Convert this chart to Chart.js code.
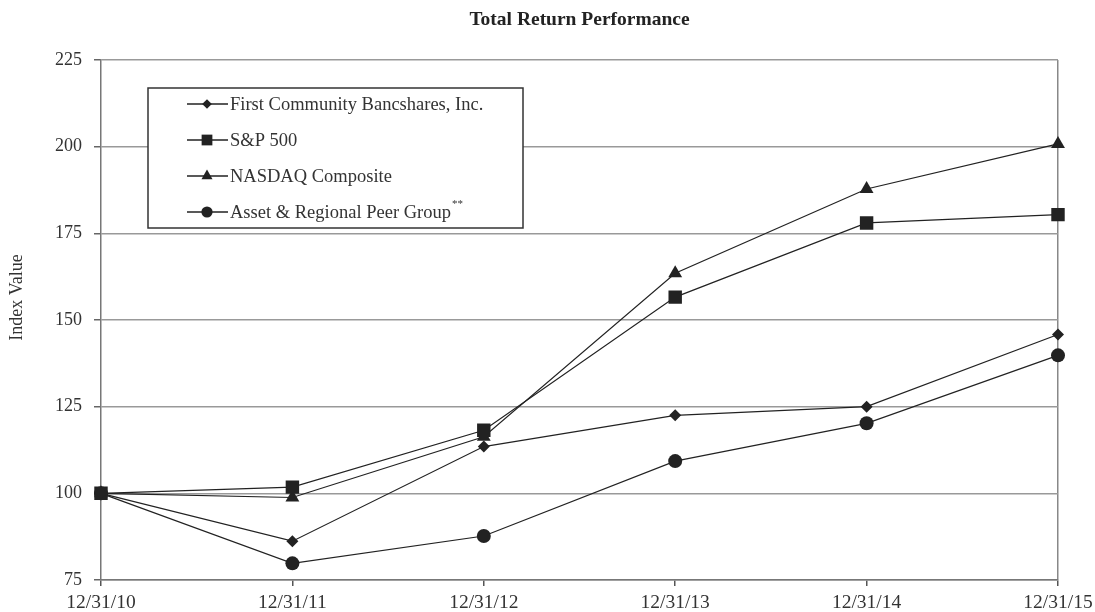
<!DOCTYPE html>
<html>
<head>
<meta charset="utf-8">
<script src="https://cdn.jsdelivr.net/npm/chart.js@4/dist/chart.umd.min.js"></script>
<style>
  html, body { margin: 0; padding: 0; background: #fff; }
  #wrap { width: 1095px; height: 612px; }
</style>
</head>
<body>
<div id="wrap"><canvas id="myChart" width="1095" height="612"></canvas></div>
<script>
// data
const dates = ['12/31/10', '12/31/11', '12/31/12', '12/31/13', '12/31/14', '12/31/15'];
const firstCommunity = [100, 86.2, 113.5, 122.5, 125, 145.8];
const sp500 = [100, 101.8, 118.2, 156.6, 178, 180.4];
const nasdaq = [100, 98.8, 116.3, 163.5, 187.8, 200.8];
const peerGroup = [100, 79.8, 87.7, 109.3, 120.2, 139.8];
const yTicks = [75, 100, 125, 150, 175, 200, 225];

const ink = '#222';
const serif = "'Liberation Serif', 'DejaVu Serif', serif";

const mkSet = (label, data, style, r) => ({
  label: label,
  data: data,
  borderColor: ink,
  backgroundColor: ink,
  borderWidth: 1.2,
  pointStyle: style,
  pointRadius: r,
  pointBorderWidth: 0,
  pointBackgroundColor: ink,
  tension: 0,
  fill: false,
});

// legend box drawn inside the plot, like the printed one
const boxLegend = {
  id: 'boxLegend',
  afterDatasetsDraw(chart) {
    const ctx = chart.ctx;
    const x0 = 148, y0 = 88, w = 375, h = 140;
    ctx.save();
    ctx.fillStyle = '#fff';
    ctx.fillRect(x0, y0, w, h);
    ctx.strokeStyle = '#333';
    ctx.lineWidth = 1.5;
    ctx.strokeRect(x0, y0, w, h);
    const rows = [104, 140, 176, 212];
    chart.data.datasets.forEach((ds, i) => {
      const y = rows[i];
      ctx.strokeStyle = ink;
      ctx.lineWidth = 1.5;
      ctx.beginPath();
      ctx.moveTo(187, y);
      ctx.lineTo(228, y);
      ctx.stroke();
      ctx.fillStyle = ink;
      Chart.helpers.drawPoint(ctx, { pointStyle: ds.pointStyle, radius: ds.pointRadius * 0.8, borderWidth: 0 }, 207, y);
      ctx.fillStyle = '#333';
      ctx.font = '18.5px ' + serif;
      ctx.textBaseline = 'middle';
      ctx.textAlign = 'left';
      ctx.fillText(ds.label, 230, y + 1);
      if (i === 3) {
        const tw = ctx.measureText(ds.label).width;
        ctx.font = '11px ' + serif;
        ctx.fillText('**', 230 + tw + 1, y - 8);
      }
    });
    ctx.restore();
  }
};

const ctx = document.getElementById('myChart').getContext('2d');
const myChart = new Chart(ctx, {
  type: 'line',
  data: {
    labels: dates,
    datasets: [
      mkSet('First Community Bancshares, Inc.', firstCommunity, 'rectRot', 6),
      mkSet('S&P 500', sp500, 'rect', 9.5),
      mkSet('NASDAQ Composite', nasdaq, 'triangle', 8),
      mkSet('Asset & Regional Peer Group', peerGroup, 'circle', 7),
    ],
  },
  options: {
    responsive: false,
    animation: false,
    devicePixelRatio: 1,
    layout: { padding: { left: 0, right: 37, top: 0, bottom: 0 } },
    scales: {
      x: {
        type: 'category',
        offset: false,
        afterFit: (s) => {
          s.height = 32;
          s.paddingLeft = 0;
          s.paddingRight = 0;
        },
        grid: {
          drawOnChartArea: true,
          color: (c) => (c.index === dates.length - 1 ? '#888' : 'rgba(0,0,0,0)'),
          lineWidth: 1.5,
          tickLength: 6,
          tickColor: '#555',
        },
        border: { color: '#777', width: 1.5 },
        ticks: {
          color: '#333',
          font: { family: serif, size: 19.5 },
          padding: 5,
          maxRotation: 0,
          autoSkip: false,
        },
      },
      y: {
        min: 75,
        max: 225,
        afterFit: (s) => { s.width = 101; },
        afterBuildTicks: (s) => { s.ticks = yTicks.map((v) => ({ value: v })); },
        grid: {
          color: '#999',
          lineWidth: 1.5,
          tickLength: 7,
          tickColor: '#666',
        },
        border: { color: '#777', width: 1.5 },
        ticks: {
          color: '#333',
          font: { family: serif, size: 18 },
          padding: 12,
        },
        title: {
          display: true,
          text: '          Index Value',
          color: '#333',
          font: { family: serif, size: 18 },
          padding: { top: 6, bottom: 4 },
        },
      },
    },
    plugins: {
      legend: { display: false },
      tooltip: { enabled: false },
      title: {
        display: true,
        text: 'Total Return Performance',
        fullSize: false,
        color: '#222',
        font: { family: serif, size: 19.5, weight: 'bold' },
        padding: { top: 8, bottom: 28.6 },
      },
    },
  },
  plugins: [boxLegend],
});
</script>
</body>
</html>
